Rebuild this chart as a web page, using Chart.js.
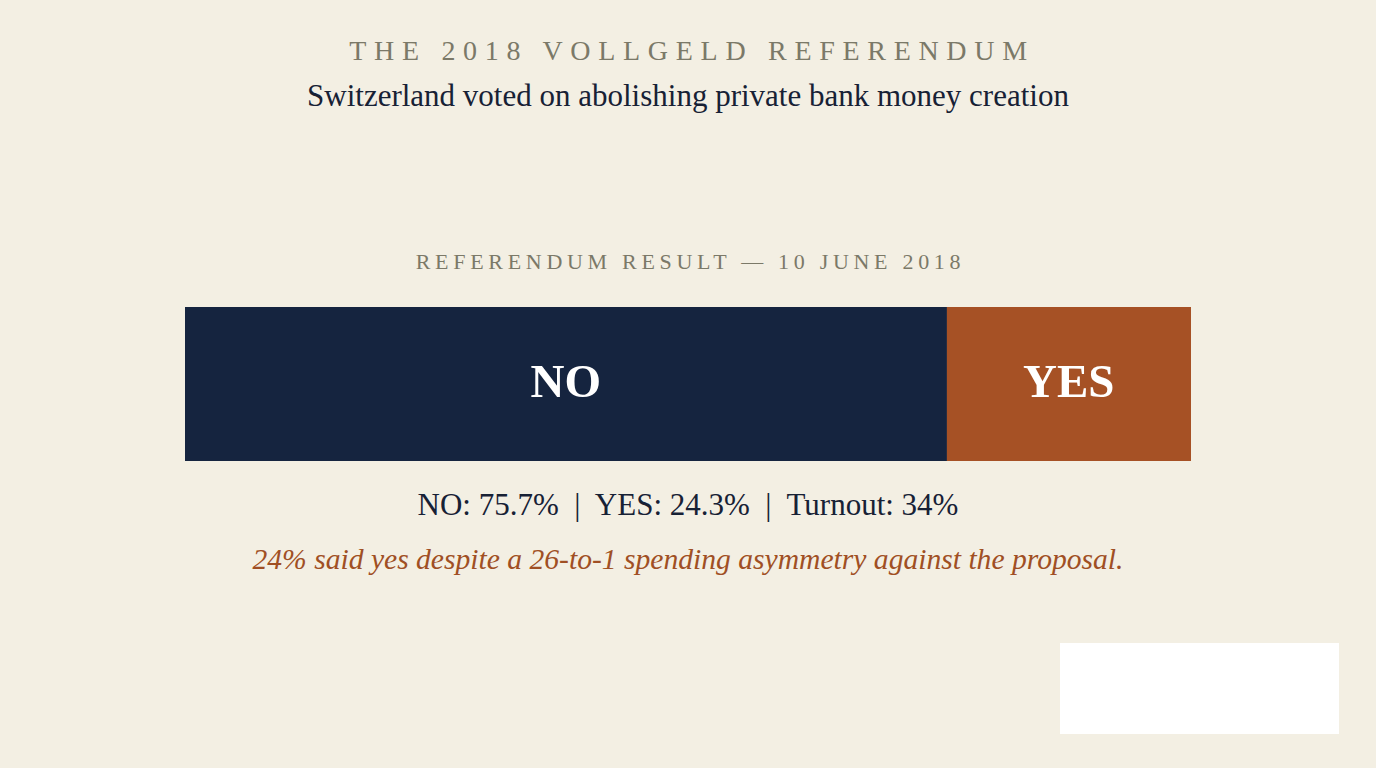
<!DOCTYPE html>
<html>
<head>
<meta charset="utf-8">
<script src="https://cdn.jsdelivr.net/npm/chart.js@4.4.1/dist/chart.umd.min.js"></script>
<style>
  html, body { margin:0; padding:0; }
  body { width:1376px; height:768px; background:#f3efe3; position:relative; overflow:hidden; font-family:"Liberation Serif","DejaVu Serif",serif; }
  .t { position:absolute; left:0; width:1376px; text-align:center; white-space:nowrap; }
  #kicker { top:35px; font-size:28px; letter-spacing:7.7px; color:#7b7968; padding-left:8px; box-sizing:border-box; }
  #sub { top:78px; font-size:31px; color:#172135; }
  #sec { top:249px; font-size:22px; letter-spacing:4.7px; color:#7b7968; padding-left:5px; box-sizing:border-box; }
  #stats { top:487px; font-size:31px; color:#172135; white-space:pre; }
  #note { top:543px; font-size:29.6px; font-style:italic; color:#a04f24; }
  #wrap { position:absolute; left:185px; top:307px; width:1006px; height:154px; }
  #box { position:absolute; left:1060px; top:643px; width:279px; height:91px; background:#ffffff; }
</style>
</head>
<body>
<div class="t" id="kicker">THE 2018 VOLLGELD REFERENDUM</div>
<div class="t" id="sub">Switzerland voted on abolishing private bank money creation</div>
<div class="t" id="sec">REFERENDUM RESULT — 10 JUNE 2018</div>
<div id="wrap"><canvas id="c"></canvas></div>
<div class="t" id="stats"></div>
<div class="t" id="note">24% said yes despite a 26-to-1 spending asymmetry against the proposal.</div>
<div id="box"></div>
<script>
const categories = ["Result"];
const optionLabels = ["NO", "YES"];
const noValues = [75.7];
const yesValues = [24.3];
const turnout = 34;
const barColors = ["#15243f", "#a65125"];

document.getElementById('stats').textContent =
  "NO: " + noValues[0] + "%  |  YES: " + yesValues[0] + "%  |  Turnout: " + turnout + "%";

const insideLabels = {
  id: 'insideLabels',
  afterDatasetsDraw(chart) {
    const ctx = chart.ctx;
    chart.data.datasets.forEach((ds, i) => {
      const meta = chart.getDatasetMeta(i);
      meta.data.forEach(el => {
        const cx = (el.x + el.base) / 2;
        ctx.save();
        ctx.font = 'bold 47px "Liberation Serif", "DejaVu Serif", serif';
        ctx.fillStyle = '#ffffff';
        ctx.textAlign = 'center';
        ctx.textBaseline = 'middle';
        ctx.fillText(ds.label, cx, el.y + 1);
        ctx.restore();
      });
    });
  }
};

new Chart(document.getElementById('c'), {
  type: 'bar',
  data: {
    labels: categories,
    datasets: [
      { label: optionLabels[0], data: noValues, backgroundColor: barColors[0] },
      { label: optionLabels[1], data: yesValues, backgroundColor: barColors[1] }
    ]
  },
  options: {
    indexAxis: 'y',
    responsive: true,
    maintainAspectRatio: false,
    animation: false,
    layout: { padding: 0 },
    datasets: { bar: { barPercentage: 1, categoryPercentage: 1, borderWidth: 0 } },
    scales: {
      x: { stacked: true, min: 0, max: 100, display: false },
      y: { stacked: true, display: false }
    },
    plugins: { legend: { display: false }, tooltip: { enabled: false } }
  },
  plugins: [insideLabels]
});
</script>
</body>
</html>
